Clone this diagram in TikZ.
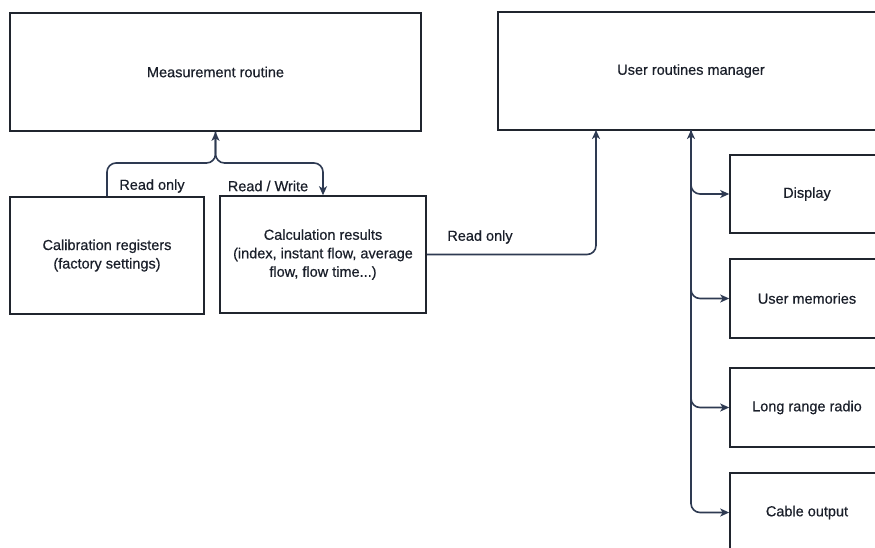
\documentclass[tikz,border=0pt]{standalone}
\usepackage{fontspec}
\setmainfont{Liberation Sans}[FakeBold=0.5,BoldFont=Liberation Sans]
\usetikzlibrary{arrows.meta}
\definecolor{boxline}{HTML}{20252E}
\definecolor{wire}{HTML}{2E3A52}
\definecolor{txt}{HTML}{1A1F2A}
\begin{document}
\begin{tikzpicture}[x=1pt,y=-1pt,
  box/.style={draw=boxline,line width=1.6pt,fill=white,inner sep=0pt,text=txt,align=center,
    font=\fontsize{14.5}{18.5}\selectfont\bfseries},
  wirestyle/.style={draw=wire,line width=1.6pt,rounded corners=9pt,
    -{Stealth[length=9pt,width=8pt,inset=2.5pt]}},
  lbl/.style={text=txt,font=\fontsize{14.5}{18}\selectfont\bfseries,inner sep=0pt}]
\clip (0,0) rectangle (875,547);
\fill[white] (0,0) rectangle (875,547);
% boxes
\node[box,minimum width=411pt,minimum height=118pt] (meas) at (215.5,72) {Measurement routine};
\node[box,minimum width=386pt,minimum height=118pt] (ur) at (691,71) {User routines manager};
\node[box,minimum width=194pt,minimum height=117pt] (cal) at (107,255.5) {Calibration registers\\(factory settings)};
\node[box,minimum width=206pt,minimum height=117pt] (calc) at (323,254.5) {Calculation results\\(index, instant flow, average\\flow, flow time...)};
\node[box,minimum width=154pt,minimum height=78pt] (disp) at (807,194) {Display};
\node[box,minimum width=154pt,minimum height=79pt] (mem) at (807,298.5) {User memories};
\node[box,minimum width=154pt,minimum height=79pt] (radio) at (807,407.5) {Long range radio};
\node[box,minimum width=154pt,minimum height=79pt] (cable) at (807,512.5) {Cable output};
% junction coordinates
\coordinate (mj) at (215.5,163);
\coordinate (urin) at (596,130);
\coordinate (trunk) at (691,130);
% measurement links
\draw[wirestyle] (cal.north) |- (mj) -- (meas.south);
\draw[wirestyle] (meas.south) -- (mj) -| (calc.north);
% calc to user manager
\draw[wirestyle] (calc.east) -| (urin);
% trunk and branches
\draw[wirestyle] (trunk) |- (disp.west);
\draw[wirestyle] (trunk) |- (mem.west);
\draw[wirestyle] (trunk) |- (radio.west);
\draw[wirestyle,{Stealth[length=9pt,width=8pt,inset=2.5pt]}-{Stealth[length=9pt,width=8pt,inset=2.5pt]}] (trunk) |- (cable.west);
% labels
\node[lbl] (l1) at (152,186) {Read only};
\node[lbl] (l2) at (268,186) {Read / Write};
\node[lbl] (l3) at (480,237) {Read only};
\end{tikzpicture}
\end{document}
